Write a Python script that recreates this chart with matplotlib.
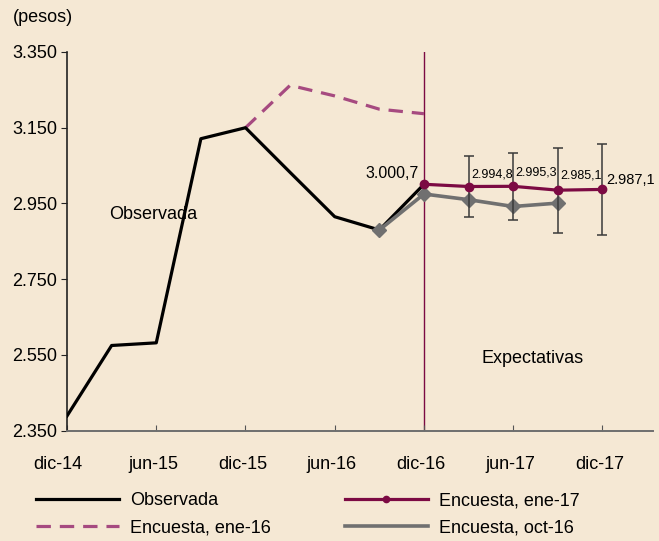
import matplotlib
matplotlib.use('agg')
import matplotlib.pyplot as plt
from matplotlib.lines import Line2D
from matplotlib.ticker import FuncFormatter
from matplotlib.transforms import ScaledTranslation

# quarters: 0 = dic-14 ... 12 = dic-17
obs_x = [0, 1, 2, 3, 4, 5, 6, 7, 8]
obs_y = [2389, 2575, 2582, 3121, 3150, 3032, 2915, 2880, 3000.7]

ene16_x = [4, 5, 6, 7, 8]
ene16_y = [3150, 3262, 3234, 3199, 3187]

ene17_x = [8, 9, 10, 11, 12]
ene17_y = [3000.7, 2994.8, 2995.3, 2985.1, 2987.1]
ene17_err = [0, 80, 89, 112, 121]

oct16_x = [7, 8, 9, 10, 11]
oct16_y = [2880, 2975, 2960, 2942, 2951]

xtick_pos = [0, 2, 4, 6, 8, 10, 12]
xtick_lab = ['dic-14', 'jun-15', 'dic-15', 'jun-16', 'dic-16', 'jun-17', 'dic-17']
yticks = [2350, 2550, 2750, 2950, 3150, 3350]

bg = '#f5e8d4'
red = '#7c0a43'
pink = '#a64a80'
gray = '#707070'

plt.rcParams['font.family'] = ['Liberation Sans', 'DejaVu Sans']
fs = 13

fig = plt.figure(figsize=(6.59, 5.41), dpi=100, facecolor=bg)
ax = fig.add_axes([0.1017, 0.2039, 0.889, 0.70])
ax.set_facecolor(bg)

ax.axvline(8, color=red, lw=1.0, zorder=1)

l_obs, = ax.plot(obs_x, obs_y, color='black', lw=2.3, zorder=3)
l_e16, = ax.plot(ene16_x, ene16_y, color=pink, lw=2.3, dashes=(4.5, 2.8), zorder=2)
ax.plot(oct16_x, oct16_y, color=gray, lw=2.6, marker='D', ms=7.5, zorder=4)
ax.errorbar(ene17_x[1:], ene17_y[1:], yerr=ene17_err[1:], fmt='none', ecolor='#3a3a3a',
            elinewidth=1.1, capsize=3.5, capthick=1.1, zorder=5)
l_e17, = ax.plot(ene17_x, ene17_y, color=red, lw=2.3, marker='o', ms=6, zorder=6)

# value labels
ax.annotate('3.000,7', (ene17_x[0], ene17_y[0]), xytext=(-5, 11), textcoords='offset pixels',
            ha='right', va='center', fontsize=11.5)
offs = [(3, 12), (2, 14), (2, 15), (4, 9)]
for i, (dx, dy) in enumerate(offs):
    k = i + 1
    size = 10.5 if k == 4 else 9
    ax.annotate(f'{ene17_y[k]:,.1f}'.replace(',', 'X').replace('.', ',').replace('X', '.'),
                (ene17_x[k], ene17_y[k]), xytext=(dx, dy), textcoords='offset pixels',
                ha='left', va='center', fontsize=size)

ax.text(0.95, 2922, 'Observada', fontsize=fs, ha='left', va='center')
ax.text(9.3, 2540, 'Expectativas', fontsize=fs, ha='left', va='center')
fig.text(13 / 659, 1 - 17 / 541, '(pesos)', fontsize=fs, ha='left', va='center')

ax.set_xlim(0, 13.13)
ax.set_ylim(2350, 3350)
ax.set_xticks(xtick_pos)
ax.set_xticklabels(xtick_lab)
ax.set_yticks(yticks)
ax.yaxis.set_major_formatter(FuncFormatter(lambda v, p: f'{v:,.0f}'.replace(',', '.')))
ax.tick_params(axis='x', direction='in', length=4, pad=18, labelsize=fs, color='#555555')
ax.tick_params(axis='y', direction='out', length=4, pad=3, labelsize=fs, color='#222222')
for i, lab in enumerate(ax.get_xticklabels()):
    shift = -9 if i == 0 else -3
    lab.set_transform(lab.get_transform() + ScaledTranslation(shift / 100, 0, fig.dpi_scale_trans))
for s in ['top', 'right']:
    ax.spines[s].set_visible(False)
ax.spines['left'].set_color('#222222')
ax.spines['bottom'].set_color('#6e6e6e')
ax.spines['left'].set_linewidth(1.2)
ax.spines['bottom'].set_linewidth(1.4)

l_o16_leg = Line2D([], [], color=gray, lw=2.6)
fig.legend([l_obs, l_e16, l_e17, l_o16_leg],
           ['Observada', 'Encuesta, ene-16', 'Encuesta, ene-17', 'Encuesta, oct-16'],
           ncol=2, frameon=False, fontsize=fs, handlelength=4.6, columnspacing=4.1,
           labelspacing=0.55, handletextpad=0.6, markerscale=0.75,
           loc='upper left', bbox_to_anchor=(0.03, 0.12))

fig.savefig('out.png', dpi=100, facecolor=bg)
